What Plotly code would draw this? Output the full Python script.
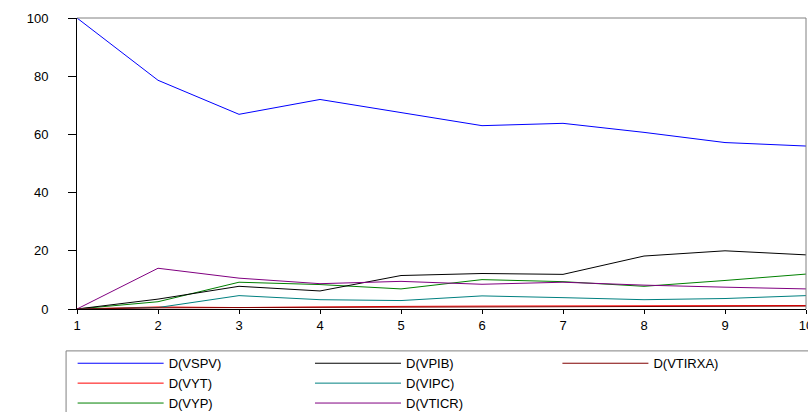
import plotly.graph_objects as go

periods = [1, 2, 3, 4, 5, 6, 7, 8, 9, 10]

d_vspv = [100, 78.6, 66.9, 72.0, 67.5, 63.0, 63.8, 60.7, 57.2, 56.0]
d_vpib = [0, 3.4, 7.8, 6.2, 11.5, 12.2, 11.9, 18.2, 20.0, 18.6]
d_vtirxa = [0, 0.4, 0.5, 0.6, 0.7, 0.8, 0.9, 1.0, 1.0, 1.0]
d_vyt = [0, 0.7, 0.5, 0.8, 0.9, 1.0, 1.1, 1.1, 1.1, 1.2]
d_vipc = [0, 0.5, 4.6, 3.2, 2.9, 4.5, 3.9, 3.2, 3.6, 4.6]
d_vyp = [0, 2.5, 9.2, 8.4, 6.9, 10.1, 9.4, 7.8, 9.8, 12.0]
d_vticr = [0, 14.0, 10.6, 8.7, 9.5, 8.5, 9.2, 8.2, 7.5, 6.9]

y_ticks = [0, 20, 40, 60, 80, 100]

series = [
    ("D(VSPV)", d_vspv, "#0000FF", "legend"),
    ("D(VYT)", d_vyt, "#FF0000", "legend"),
    ("D(VYP)", d_vyp, "#008000", "legend"),
    ("D(VPIB)", d_vpib, "#000000", "legend2"),
    ("D(VIPC)", d_vipc, "#008080", "legend2"),
    ("D(VTICR)", d_vticr, "#800080", "legend2"),
    ("D(VTIRXA)", d_vtirxa, "#800000", "legend3"),
]

fig = go.Figure()
for name, vals, color, leg in series:
    fig.add_trace(go.Scatter(
        x=periods, y=vals, mode="lines", name=name,
        line=dict(color=color, width=1), legend=leg, cliponaxis=False,
    ))

font = dict(family="Liberation Sans, Arial, sans-serif", size=13, color="#000000")
legend_common = dict(
    orientation="v", xanchor="left", yanchor="top",
    bgcolor="rgba(0,0,0,0)", borderwidth=0, font=font,
    itemwidth=86, tracegroupgap=0, traceorder="normal",
)

fig.update_layout(
    width=808, height=412,
    margin=dict(l=77, r=2, t=18, b=103, autoexpand=False),
    paper_bgcolor="white", plot_bgcolor="white",
    font=font,
    showlegend=True,
    xaxis=dict(
        range=[1, 10], tickvals=periods, ticktext=[str(p) for p in periods],
        showgrid=False, zeroline=False, showline=True, linecolor="#000000", linewidth=1,
        ticks="outside", ticklen=4, tickcolor="#000000", tickfont=font,
        automargin=False, ticklabeloverflow="allow",
    ),
    yaxis=dict(
        range=[0, 100], tickvals=y_ticks, ticktext=[str(v) for v in y_ticks],
        showgrid=False, zeroline=False, showline=True, linecolor="#000000", linewidth=1,
        ticks="outside", ticklen=8, tickcolor="#000000", tickfont=font,
        ticklabelstandoff=17, automargin=False, ticklabeloverflow="allow",
    ),
    legend=dict(x=-0.006, y=-0.135, **legend_common),
    legend2=dict(x=0.3196, y=-0.135, **legend_common),
    legend3=dict(x=0.659, y=-0.135, **legend_common),
    shapes=[
        dict(type="line", xref="paper", yref="paper", x0=0, x1=1, y0=1, y1=1,
             line=dict(color="#808080", width=1)),
        dict(type="line", xref="paper", yref="paper", x0=1, x1=1, y0=0, y1=1,
             line=dict(color="#808080", width=1)),
        dict(type="rect", xref="paper", yref="paper", x0=-0.015, x1=1.1, y0=-0.144, y1=-0.5,
             line=dict(color="#808080", width=1), fillcolor="rgba(0,0,0,0)"),
    ],
)

fig.write_html(
    "out.html",
    config={"displayModeBar": False},
    post_script="document.body.style.margin='0';document.body.style.overflow='hidden';",
)
